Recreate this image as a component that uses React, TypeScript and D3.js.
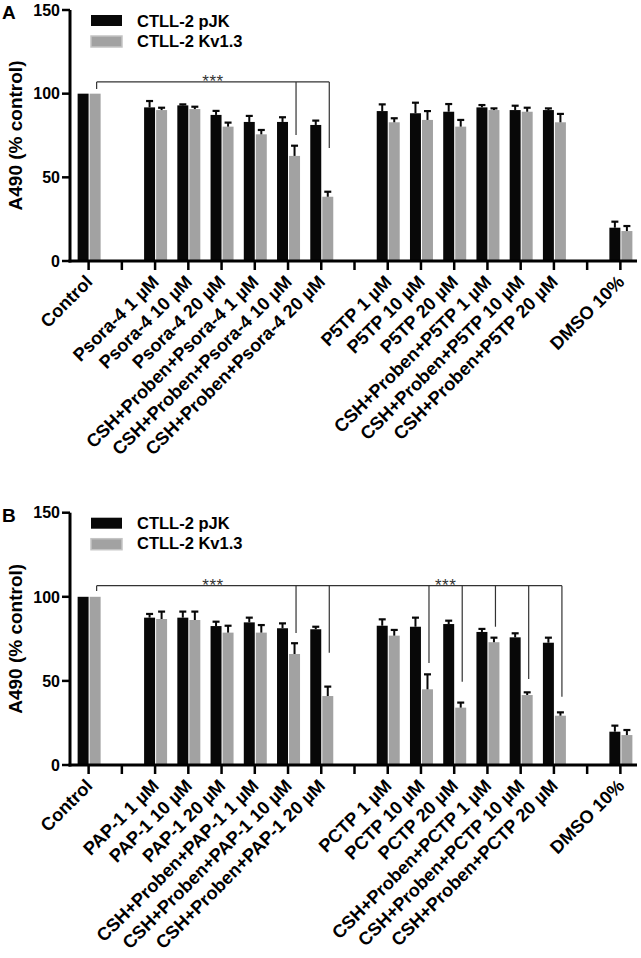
import React from 'react';
import * as d3 from 'd3';

const categoryIds = ['c0','c1','c2','c3','c4','c5','c6','c7','c8','c9','c10','c11','c12','c13','c14','c15','c16'];

const labelsA = ['Control', '', 'Psora-4 1 µM', 'Psora-4 10 µM', 'Psora-4 20 µM', 'CSH+Proben+Psora-4 1 µM', 'CSH+Proben+Psora-4 10 µM', 'CSH+Proben+Psora-4 20 µM', '', 'P5TP 1 µM', 'P5TP 10 µM', 'P5TP 20 µM', 'CSH+Proben+P5TP 1 µM', 'CSH+Proben+P5TP 10 µM', 'CSH+Proben+P5TP 20 µM', '', 'DMSO 10%'];
const labelsB = ['Control', '', 'PAP-1 1 µM', 'PAP-1 10 µM', 'PAP-1 20 µM', 'CSH+Proben+PAP-1 1 µM', 'CSH+Proben+PAP-1 10 µM', 'CSH+Proben+PAP-1 20 µM', '', 'PCTP 1 µM', 'PCTP 10 µM', 'PCTP 20 µM', 'CSH+Proben+PCTP 1 µM', 'CSH+Proben+PCTP 10 µM', 'CSH+Proben+PCTP 20 µM', '', 'DMSO 10%'];

const seriesNames = ['CTLL-2 pJK', 'CTLL-2 Kv1.3'];
const yTicks = [0, 50, 100, 150];

const pjkA = [100, null, 91.8, 93, 87.3, 83.1, 83.1, 81.3, null, 89.6, 88.3, 89.2, 91.8, 90.2, 90.2, null, 19.9];
const pjkAErr = [0, null, 3.8, 0.6, 2.4, 3.6, 2.8, 2.6, null, 4, 6.3, 4.6, 1.4, 2.6, 1, null, 3.6];
const kvA = [100, null, 90.2, 90.8, 80.3, 75.7, 62.8, 38.4, null, 82.9, 84.3, 80.3, 90.2, 89.2, 82.9, null, 17.9];
const kvAErr = [0, null, 1.4, 1.4, 2.4, 2.6, 6.1, 3, null, 2.4, 5.3, 4, 1, 2.4, 5, null, 3];

const pjkB = [100, null, 87.6, 87.6, 82.6, 84.8, 81.3, 80.7, null, 82.8, 82.2, 83.8, 79.1, 75.9, 72.7, null, 19.8];
const pjkBErr = [0, null, 2.2, 3.6, 2.6, 2.8, 2.9, 1.5, null, 3.8, 5.4, 2, 1.8, 2.4, 3, null, 3.6];
const kvB = [100, null, 86.8, 86.2, 78.7, 78.7, 66, 41, null, 76.9, 45, 34.1, 73, 41.6, 29.3, null, 17.8];
const kvBErr = [0, null, 4.4, 5, 4.1, 4.5, 6.4, 5.6, null, 3.4, 8.9, 3, 2.7, 1.6, 2, null, 3];

// significance brackets (values in axis units)
const bracketALevel = 107;
const bracketAStart = 102.8;
const bracketADropCats = [6, 7];
const bracketADropEnds = [75.3, 67.5];
const bracketAStarSpans = [[0, 7]];

const bracketBLevel = 106.6;
const bracketBStart = 103.5;
const bracketBDropCats = [6, 7, 10, 11, 12, 13, 14];
const bracketBDropEnds = [78.5, 66.8, 60.6, 49.5, 82.2, 51.1, 40.6];
const bracketBStarSpans = [[0, 7], [7, 14]];

const FONT = '"Liberation Sans", Arial, Helvetica, sans-serif';
const BLACK = '#080808';
const GRAY = '#a2a2a2';

type PanelProps = {
  letter: string;
  y0: number;
  y150: number;
  labels: string[];
  pjk: (number | null)[];
  pjkErr: (number | null)[];
  kv: (number | null)[];
  kvErr: (number | null)[];
  level: number;
  start: number;
  dropCats: number[];
  dropEnds: number[];
  starSpans: number[][];
};

function Panel(p: PanelProps) {
  const x = d3.scalePoint<string>().domain(categoryIds).range([72, 637]).padding(0.5);
  const sub = d3.scaleBand<string>().domain(['pjk', 'kv']).range([-11, 12]).paddingInner(0.087);
  const y = d3.scaleLinear().domain([0, 150]).range([p.y0, p.y150]);
  const bw = sub.bandwidth();
  const axisX = 70;

  const bars: JSX.Element[] = [];
  const errs: JSX.Element[] = [];
  const series = [
    { key: 'pjk', vals: p.pjk, err: p.pjkErr, color: BLACK },
    { key: 'kv', vals: p.kv, err: p.kvErr, color: GRAY },
  ];
  series.forEach((s) => {
    s.vals.forEach((v, i) => {
      if (v == null) return;
      const cx = (x(categoryIds[i]) as number) + (sub(s.key) as number);
      bars.push(
        <rect key={s.key + i} x={cx} y={y(v)} width={bw} height={y(0) - y(v)} fill={s.color} />
      );
      const e = s.err[i] || 0;
      if (e > 0) {
        const mx = cx + bw / 2;
        errs.push(
          <g key={'e' + s.key + i} stroke={BLACK} strokeWidth={2}>
            <line x1={mx} x2={mx} y1={y(v)} y2={y(v + e)} />
            <line x1={mx - 3.5} x2={mx + 3.5} y1={y(v + e)} y2={y(v + e)} strokeWidth={2.2} />
          </g>
        );
      }
    });
  });

  const bx = (i: number) => (x(categoryIds[i]) as number) + (sub('kv') as number) + bw / 2 + 1.5;
  const lastDrop = p.dropCats[p.dropCats.length - 1];

  return (
    <g>
      <text x={2} y={p.y150 + 9} fontFamily={FONT} fontWeight="bold" fontSize={19} fill="#000">{p.letter}</text>
      <text transform={`translate(21.5, ${(p.y0 + p.y150) / 2}) rotate(-90)`} textAnchor="middle" fontFamily={FONT} fontWeight="bold" fontSize={19} fill="#000">A490 (% control)</text>

      {/* legend */}
      <rect x={91} y={p.y150 + 5} width={31} height={11} fill={BLACK} />
      <rect x={91} y={p.y150 + 26} width={31} height={11} fill={GRAY} stroke="#c4c4c4" strokeWidth={1.5} />
      <text x={137} y={p.y150 + 16.7} fontFamily={FONT} fontWeight="bold" fontSize={16.5} fill="#000">{seriesNames[0]}</text>
      <text x={137} y={p.y150 + 36.7} fontFamily={FONT} fontWeight="bold" fontSize={16.5} fill="#000">{seriesNames[1]}</text>

      {bars}
      {errs}

      {/* brackets */}
      <g stroke="#333" strokeWidth={1.2} fill="none">
        <line x1={bx(0)} x2={bx(lastDrop)} y1={y(p.level)} y2={y(p.level)} />
        <line x1={bx(0)} x2={bx(0)} y1={y(p.level)} y2={y(p.start)} />
        {p.dropCats.map((c, k) => (
          <line key={'d' + k} x1={bx(c)} x2={bx(c)} y1={y(p.level)} y2={y(p.dropEnds[k])} />
        ))}
      </g>
      {p.starSpans.map((sp, k) => (
        <text key={'s' + k} x={(bx(sp[0]) + bx(sp[1])) / 2} y={y(p.level) + 5} textAnchor="middle" fontFamily={FONT} fontSize={17} letterSpacing={0.5} fill="#333">***</text>
      ))}

      {/* y axis */}
      <line x1={axisX} x2={axisX} y1={y(0) + 1.5} y2={y(150)} stroke="#000" strokeWidth={3} />
      {yTicks.map((t) => (
        <g key={'yt' + t}>
          <line x1={axisX - 8} x2={axisX} y1={y(t)} y2={y(t)} stroke="#000" strokeWidth={2.5} />
          <text x={axisX - 10} y={y(t)} dy="0.36em" textAnchor="end" fontFamily={FONT} fontWeight="bold" fontSize={16} fill="#000">{t}</text>
        </g>
      ))}

      {/* x axis */}
      <line x1={axisX - 1.5} x2={637} y1={y(0)} y2={y(0)} stroke="#000" strokeWidth={3} />
      {categoryIds.map((id, i) => (
        <g key={'xt' + id}>
          <line x1={x(id)} x2={x(id)} y1={y(0)} y2={y(0) + 9} stroke="#000" strokeWidth={2.5} />
          {p.labels[i] ? (
            <text transform={`translate(${(x(id) as number) + 5}, ${y(0) + 22}) rotate(-45)`} textAnchor="end" fontFamily={FONT} fontWeight="bold" fontSize={18.2} fill="#000">{p.labels[i]}</text>
          ) : null}
        </g>
      ))}
    </g>
  );
}

export default function App() {
  return (
    <svg width={641} height={958} style={{ position: 'absolute', left: 0, top: 0, background: '#fff' }}>
      <rect width={641} height={958} fill="#fff" />
      <Panel letter="A" y0={261} y150={10} labels={labelsA} pjk={pjkA} pjkErr={pjkAErr} kv={kvA} kvErr={kvAErr}
        level={bracketALevel} start={bracketAStart} dropCats={bracketADropCats} dropEnds={bracketADropEnds} starSpans={bracketAStarSpans} />
      <Panel letter="B" y0={765} y150={512.7} labels={labelsB} pjk={pjkB} pjkErr={pjkBErr} kv={kvB} kvErr={kvBErr}
        level={bracketBLevel} start={bracketBStart} dropCats={bracketBDropCats} dropEnds={bracketBDropEnds} starSpans={bracketBStarSpans} />
    </svg>
  );
}
